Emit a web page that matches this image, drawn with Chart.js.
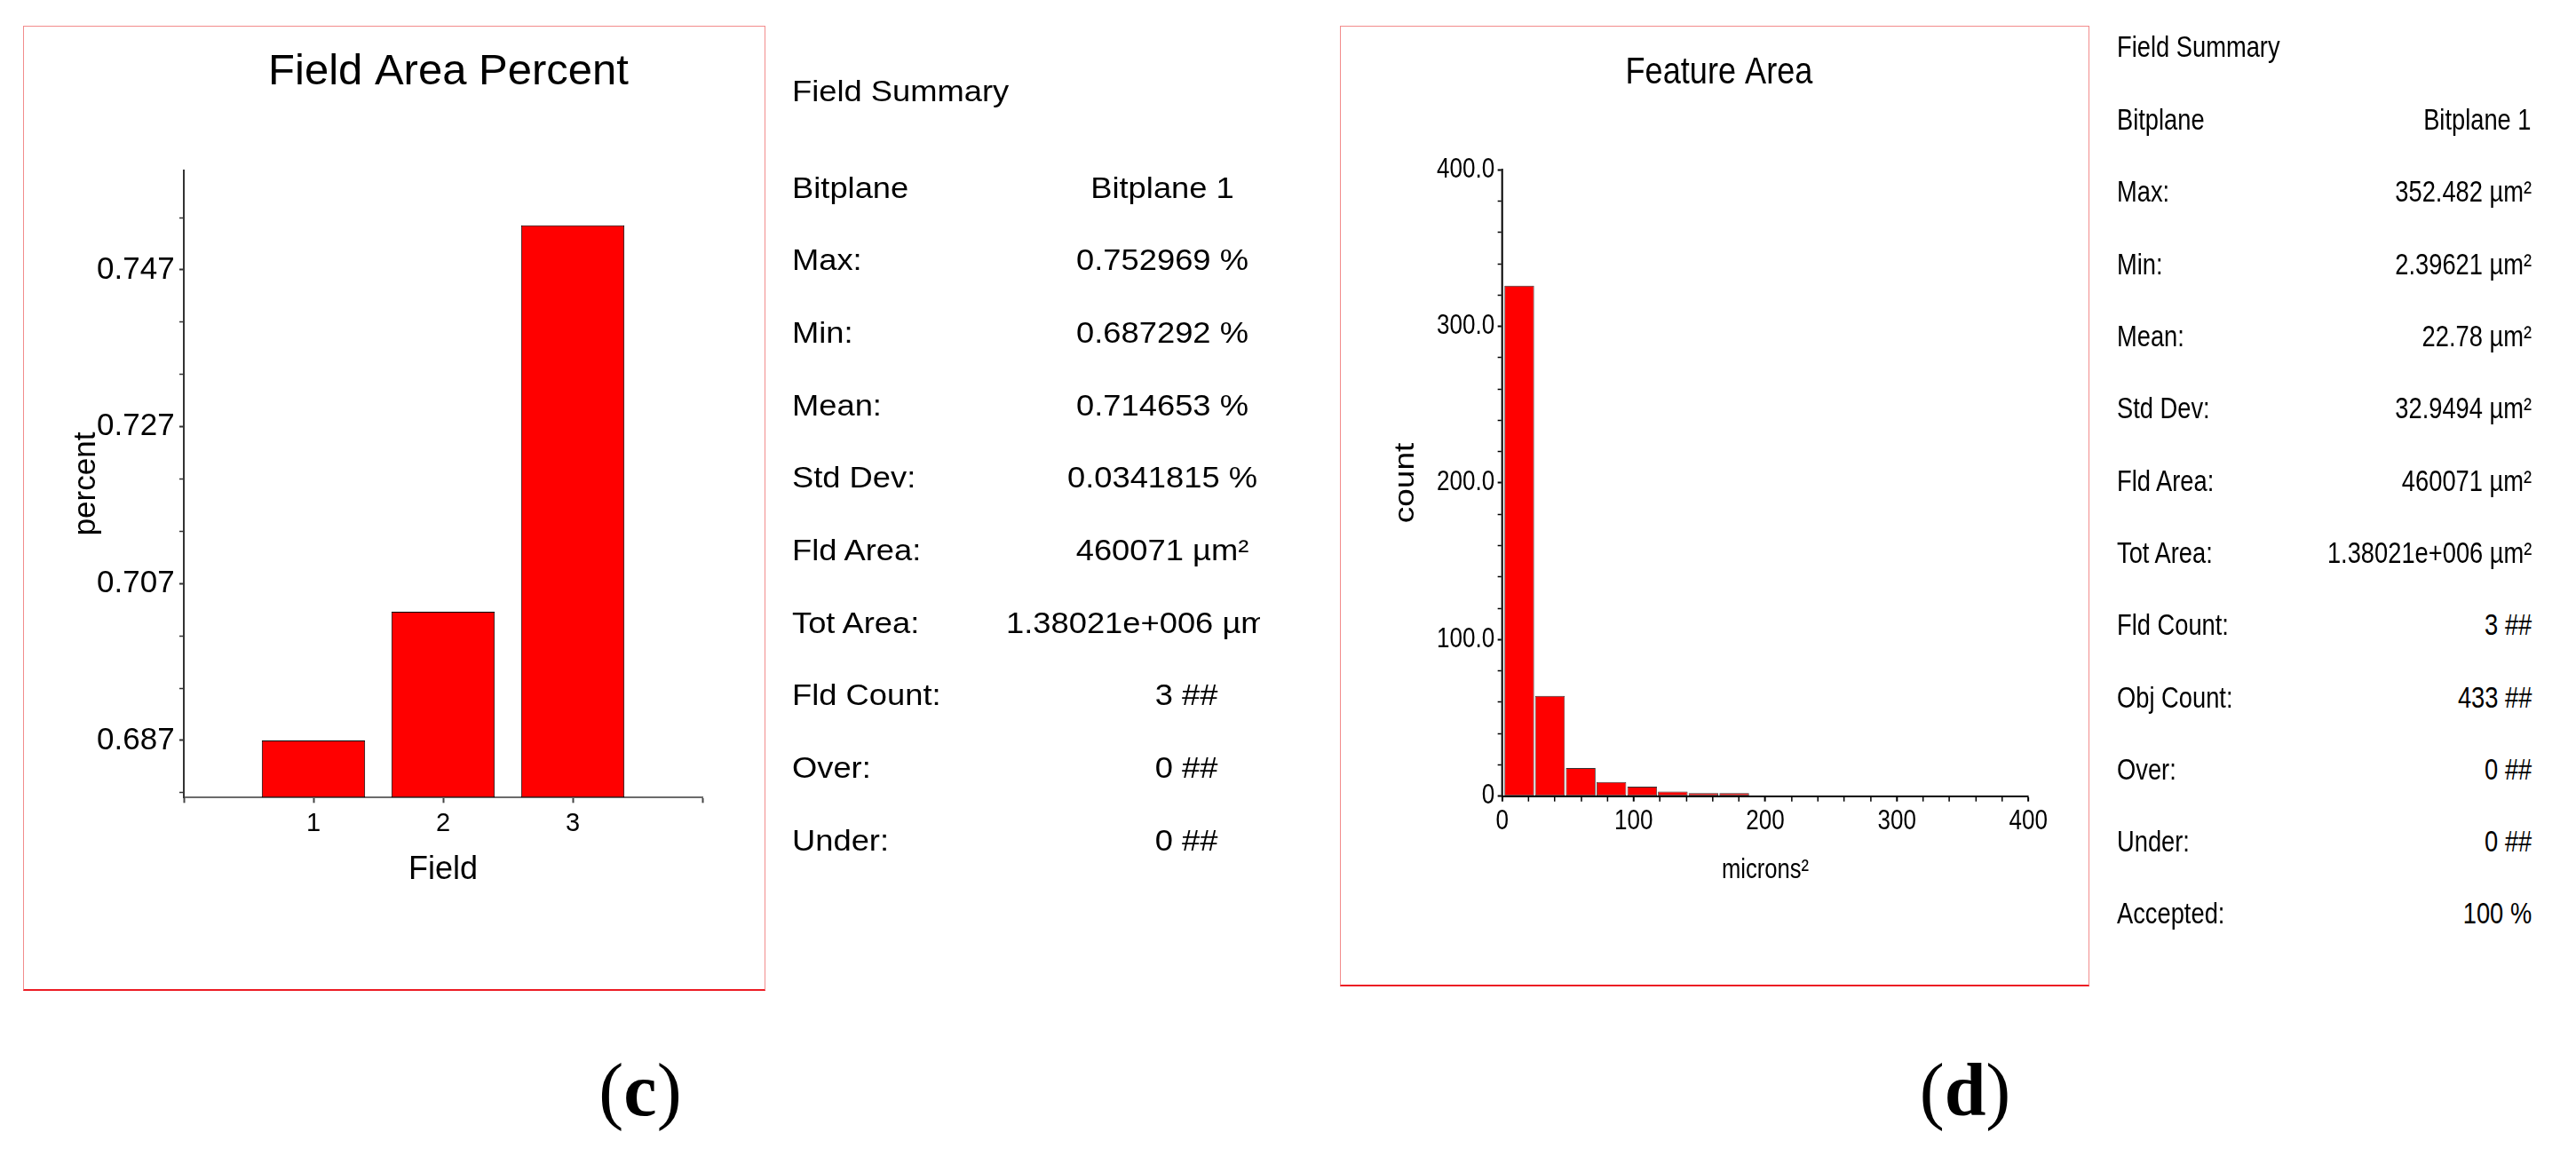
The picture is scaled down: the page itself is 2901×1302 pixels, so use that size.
<!DOCTYPE html>
<html>
<head>
<meta charset="utf-8">
<script src="https://cdn.jsdelivr.net/npm/chart.js@4.4.1/dist/chart.umd.min.js"></script>
<style>
  html, body { margin: 0; padding: 0; background: #fff; }
  body { width: 2901px; height: 1302px; position: relative; overflow: hidden; font-family: 'Liberation Sans', Arial, sans-serif; }
  .panel { position: absolute; box-sizing: border-box; border: 1.5px solid #f28c8c; border-bottom: 2px solid #ec1c24; }
  canvas { position: absolute; top: 0; }
  .txt { position: absolute; white-space: nowrap; line-height: 1; color: #000; }
  #clipL { position: absolute; left: 0; top: 0; width: 1419px; height: 1302px; overflow: hidden; }
  .cap { position: absolute; white-space: nowrap; line-height: 1; font-family: 'Liberation Serif', 'Times New Roman', serif; font-size: 84px; color: #000; transform: translateX(-50%); }
</style>
</head>
<body>
<div class="panel" style="left:26px;top:29px;width:836px;height:1087px;"></div>
<div class="panel" style="left:1509px;top:29px;width:844px;height:1082px;"></div>
<canvas id="c1" width="1010" height="1120" style="left:0px;"></canvas>
<canvas id="c2" width="1038" height="1120" style="left:1500px;"></canvas>
<div id="clipL"></div>
<div id="texts"></div>
<div class="cap" style="left:721px;top:1186px;">(<b>c</b>)</div>
<div class="cap" style="left:2213px;top:1186px;">(<b>d</b>)</div>
<script>
// ---------------- data ----------------
const fieldCategories = ['', '1', '2', '3', ''];
const fieldPercent = [null, 0.687292, 0.703698, 0.752969, null];
const fieldYMajorTicks = [0.687292, 0.707292, 0.727292, 0.747292];
const fieldYMajorLabels = ['0.687', '0.707', '0.727', '0.747'];
const fieldYMinorTicks = [0.680625, 0.693958, 0.700625, 0.713958, 0.720625, 0.733958, 0.740625, 0.753958];

const areaBinCenters = [13.0, 36.3, 59.7, 83.0, 106.4, 129.7, 153.0, 176.4, 199.7, 223.1, 246.4, 269.7, 293.1, 316.4, 339.8];
const areaCounts = [326, 64, 18, 9, 6, 3, 2, 2, 0, 0, 0, 0, 0, 0, 0];
const areaYMajorTicks = [0, 100, 200, 300, 400];
const areaYMajorLabels = ['0', '100.0', '200.0', '300.0', '400.0'];
const areaYMinorTicks = [20, 40, 60, 80, 120, 140, 160, 180, 220, 240, 260, 280, 320, 340, 360, 380];
const areaXMajorTicks = [0, 100, 200, 300, 400];
const areaXMajorLabels = ['0', '100', '200', '300', '400'];
const areaXMinorTicks = [20, 40, 60, 80, 120, 140, 160, 180, 220, 240, 260, 280, 320, 340, 360, 380];

const leftSummaryTitle = 'Field Summary';
const leftSummaryLabels = ['Bitplane', 'Max:', 'Min:', 'Mean:', 'Std Dev:', 'Fld Area:', 'Tot Area:', 'Fld Count:', 'Over:', 'Under:'];
const leftSummaryValues = ['Bitplane 1', '0.752969 %', '0.687292 %', '0.714653 %', '0.0341815 %', '460071 µm²', '1.38021e+006 µm²', '3 ##', '0 ##', '0 ##'];

const rightSummaryTitle = 'Field Summary';
const rightSummaryLabels = ['Bitplane', 'Max:', 'Min:', 'Mean:', 'Std Dev:', 'Fld Area:', 'Tot Area:', 'Fld Count:', 'Obj Count:', 'Over:', 'Under:', 'Accepted:'];
const rightSummaryValues = ['Bitplane 1', '352.482 µm²', '2.39621 µm²', '22.78 µm²', '32.9494 µm²', '460071 µm²', '1.38021e+006 µm²', '3 ##', '433 ##', '0 ##', '0 ##', '100 %'];

// ---------------- helpers ----------------
const FONT_L = "'Liberation Sans', Arial, sans-serif";
const NARROW = 0.84; // horizontal condensing of panel (d) lettering

function tickSet(major, minor) {
  return major.map(v => ({ value: v, isMajor: true }))
    .concat(minor.map(v => ({ value: v, isMajor: false })))
    .sort((a, b) => a.value - b.value);
}
function labelFor(major, labels) {
  return function (value, index, ticks) {
    const t = ticks[index];
    if (!t || !t.isMajor) return '';
    const i = major.findIndex(m => Math.abs(m - value) < 1e-9);
    return i >= 0 ? labels[i] : '';
  };
}
const tickW = (major, minor) => ctx => (ctx.tick && ctx.tick.isMajor ? major : minor);

// draws the whole chart horizontally condensed (narrow lettering like the original)
const narrowPlugin = {
  id: 'narrow',
  beforeDraw(chart, args, opts) { chart.ctx.save(); chart.ctx.scale(opts.k || 1, 1); },
  afterDraw(chart) { chart.ctx.restore(); }
};

// ---------------- chart (c) ----------------
new Chart(document.getElementById('c1'), {
  type: 'bar',
  data: {
    labels: fieldCategories,
    datasets: [{
      data: fieldPercent,
      backgroundColor: '#ff0000',
      borderColor: '#000000',
      borderWidth: 1,
      borderSkipped: false,
      base: 0.68,
      barPercentage: 0.797,
      categoryPercentage: 1
    }]
  },
  options: {
    responsive: false,
    animation: false,
    events: [],
    layout: { padding: 0 },
    plugins: {
      legend: { display: false },
      tooltip: { enabled: false },
      title: {
        display: true, text: 'Field Area Percent', color: '#000',
        font: { family: FONT_L, size: 49, weight: 'normal' },
        padding: { top: 51.6, bottom: 81.3 }
      }
    },
    scales: {
      x: {
        type: 'category', offset: false,
        grid: { display: true, offset: false, drawOnChartArea: false, drawTicks: true, tickLength: 6, color: '#444', tickWidth: 2 },
        border: { display: true, color: '#6b6b6b', width: 2 },
        ticks: { autoSkip: false, maxRotation: 0, padding: 6, color: '#000', font: { family: FONT_L, size: 29 } },
        title: { display: true, text: 'Field', color: '#000', font: { family: FONT_L, size: 36 }, padding: { top: 0, bottom: 118.6 } },
        afterFit(s) { s.height = 221.7; }
      },
      y: {
        type: 'linear', position: 'left', min: 0.68, max: 0.76,
        afterBuildTicks(s) { s.ticks = tickSet(fieldYMajorTicks, fieldYMinorTicks); },
        grid: { display: true, drawOnChartArea: false, drawTicks: true, tickLength: 5, color: '#333', tickWidth: tickW(2, 1.5) },
        border: { display: true, color: '#333', width: 2 },
        ticks: { autoSkip: false, padding: 5.3, color: '#000', font: { family: FONT_L, size: 35 }, callback: labelFor(fieldYMajorTicks, fieldYMajorLabels) },
        title: { display: true, text: 'percent', color: '#000', font: { family: FONT_L, size: 35 }, padding: { top: 76, bottom: 0 } },
        afterFit(s) { s.width = 207; }
      },
      pad: {
        type: 'linear', position: 'right', display: true,
        grid: { display: false }, border: { display: false }, ticks: { display: false },
        afterFit(s) { s.width = 219; }
      }
    }
  }
});

// ---------------- chart (d) ----------------
new Chart(document.getElementById('c2'), {
  type: 'bar',
  plugins: [narrowPlugin],
  data: {
    datasets: [{
      data: areaBinCenters.map((x, i) => ({ x: x, y: areaCounts[i] })),
      backgroundColor: '#ff0000',
      borderColor: '#333333',
      borderWidth: 1,
      borderSkipped: false,
      barPercentage: 1.128,
      categoryPercentage: 1
    }]
  },
  options: {
    responsive: false,
    animation: false,
    events: [],
    layout: { padding: 0 },
    plugins: {
      narrow: { k: NARROW },
      legend: { display: false },
      tooltip: { enabled: false },
      title: {
        display: true, text: 'Feature Area', color: '#000',
        font: { family: FONT_L, size: 43, weight: 'normal' },
        padding: { top: 56.5, bottom: 83.1 }
      }
    },
    scales: {
      x: {
        type: 'linear', min: 0, max: 400, offset: false,
        afterBuildTicks(s) { s.ticks = tickSet(areaXMajorTicks, areaXMinorTicks); },
        grid: { display: true, offset: false, drawOnChartArea: false, drawTicks: true, tickLength: 6, color: '#000', tickWidth: tickW(2.4, 1.8) },
        border: { display: true, color: '#000', width: 2 },
        ticks: { autoSkip: false, maxRotation: 0, padding: 4.5, color: '#000', font: { family: FONT_L, size: 31 }, callback: labelFor(areaXMajorTicks, areaXMajorLabels) },
        title: { display: true, text: 'microns²', color: '#000', font: { family: FONT_L, size: 30.5 }, padding: { top: 0, bottom: 120.7 } },
        afterFit(s) { s.height = 223.3; }
      },
      y: {
        type: 'linear', position: 'left', min: 0, max: 400, beginAtZero: true,
        afterBuildTicks(s) { s.ticks = tickSet(areaYMajorTicks, areaYMinorTicks); },
        grid: { display: true, drawOnChartArea: false, drawTicks: true, tickLength: 6, color: '#000', tickWidth: tickW(2, 1.5) },
        border: { display: true, color: '#000', width: 2.4 },
        ticks: { autoSkip: false, padding: 4, color: '#000', font: { family: FONT_L, size: 31 }, callback: labelFor(areaYMajorTicks, areaYMajorLabels) },
        title: { display: true, text: 'count', color: '#000', font: { family: FONT_L, size: 37 }, padding: { top: 77.3, bottom: 0 } },
        afterFit(s) { s.width = 228.2; }
      },
      pad: {
        type: 'linear', position: 'right', display: true,
        grid: { display: false }, border: { display: false }, ticks: { display: false },
        afterFit(s) { s.width = 104.3; }
      }
    }
  }
});

// ---------------- summary tables ----------------
const texts = document.getElementById('texts');
const clipL = document.getElementById('clipL');
function addText(parent, str, size, baseline, anchor, stretch) {
  const pw = parent === clipL ? 1419 : 2901;
  const d = document.createElement('div');
  d.className = 'txt';
  d.textContent = str;
  d.style.fontSize = size + 'px';
  d.style.top = (baseline - 0.8465 * size) + 'px';
  if (anchor.left !== undefined) {
    d.style.left = anchor.left + 'px';
    d.style.transformOrigin = '0 50%';
    d.style.transform = 'scaleX(' + stretch + ')';
  } else if (anchor.right !== undefined) {
    d.style.right = (pw - anchor.right) + 'px';
    d.style.transformOrigin = '100% 50%';
    d.style.transform = 'scaleX(' + stretch + ')';
  } else {
    d.style.left = anchor.center + 'px';
    d.style.transformOrigin = '50% 50%';
    d.style.transform = 'translateX(-50%) scaleX(' + stretch + ')';
  }
  parent.appendChild(d);
}

// left summary (c)
const LS = { size: 32.6, stretch: 1.115, x: 891.7, titleBase: 115, rowBase: 223.3, step: 81.67 };
addText(texts, leftSummaryTitle, LS.size, LS.titleBase, { left: LS.x }, LS.stretch);
leftSummaryLabels.forEach((lab, i) => {
  const b = LS.rowBase + i * LS.step;
  addText(texts, lab, LS.size, b, { left: LS.x }, LS.stretch);
  const v = leftSummaryValues[i];
  let anchor = { center: 1309 };
  if (v.endsWith('##')) anchor = { right: 1371 };
  else if (lab === 'Tot Area:') anchor = { left: 1133 };
  addText(clipL, v, LS.size, b, anchor, LS.stretch);
});

// right summary (d)
const RS = { size: 32.5, stretch: NARROW, x: 2384, titleBase: 64.3, rowBase: 146.7, step: 81.3, right: 2851 };
addText(texts, rightSummaryTitle, RS.size, RS.titleBase, { left: RS.x }, RS.stretch);
rightSummaryLabels.forEach((lab, i) => {
  const b = RS.rowBase + i * RS.step;
  addText(texts, lab, RS.size, b, { left: RS.x }, RS.stretch);
  addText(texts, rightSummaryValues[i], RS.size, b, { right: RS.right }, RS.stretch);
});
</script>
</body>
</html>
